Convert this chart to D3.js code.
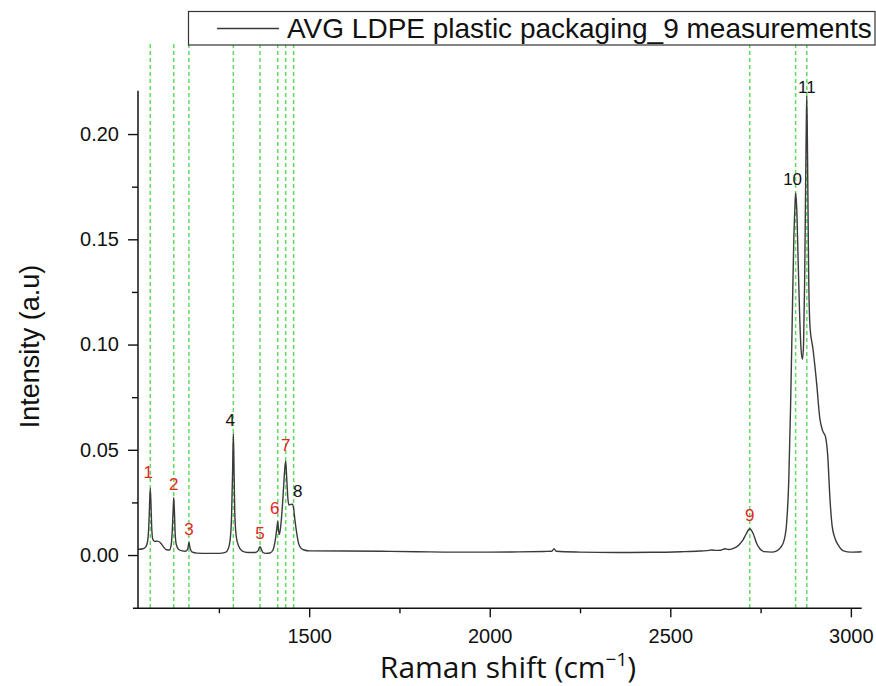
<!DOCTYPE html>
<html>
<head>
<meta charset="utf-8">
<script src="https://d3js.org/d3.v7.min.js"></script>
<style>
    body { margin: 0; background: #fff; }
    svg { display: block; }
</style>
</head>
<body>
<div id="chart"></div>
<script>
// Raman shift (cm-1) sampled along the averaged spectrum
var ramanShift = [
    1026, 1040, 1048, 1053, 1056, 1058, 1060, 1062, 1064, 1067, 1072, 1080, 1088, 1096, 1105,
    1113, 1118, 1121, 1123, 1125, 1127, 1129, 1132, 1138, 1148, 1158, 1164, 1167, 1170, 1175,
    1190, 1220, 1250, 1268, 1276, 1281, 1285, 1288, 1290, 1292, 1294, 1298, 1304, 1314, 1330,
    1350, 1358, 1362, 1364, 1367, 1372, 1380, 1392, 1400, 1406, 1410, 1413, 1415, 1417, 1420,
    1424, 1428, 1432, 1435, 1438, 1441, 1444, 1449, 1454, 1457, 1461, 1465, 1470, 1476, 1486,
    1500, 1600, 1700, 1800, 1900, 2000, 2080, 2150, 2172, 2178, 2184, 2250, 2350, 2450, 2530,
    2580, 2600, 2615, 2625, 2640, 2652, 2660, 2675, 2690, 2700, 2710, 2720, 2730, 2738, 2748,
    2760, 2780, 2795, 2805, 2815, 2822, 2828, 2833, 2838, 2842, 2845, 2847, 2850, 2854, 2858,
    2862, 2866, 2869, 2872, 2875, 2877, 2878, 2880, 2883, 2887, 2895, 2905, 2914, 2922, 2930,
    2936, 2942, 2948, 2956, 2966, 2980, 3000, 3030
];

// Intensity (a.u) at each shift above
var intensity = [
    0.0027, 0.0030, 0.0040, 0.0070, 0.0140, 0.0240, 0.0317, 0.0240, 0.0130, 0.0075, 0.0065, 0.0066, 0.0058, 0.0040, 0.0025,
    0.0024, 0.0050, 0.0120, 0.0200, 0.0274, 0.0200, 0.0100, 0.0050, 0.0028, 0.0020, 0.0018, 0.0030, 0.0060, 0.0035, 0.0015,
    0.0009, 0.0008, 0.0008, 0.0013, 0.0030, 0.0070, 0.0180, 0.0400, 0.0578, 0.0400, 0.0200, 0.0090, 0.0045, 0.0020, 0.0012,
    0.0012, 0.0020, 0.0035, 0.0040, 0.0030, 0.0012, 0.0008, 0.0010, 0.0025, 0.0070, 0.0120, 0.0160, 0.0120, 0.0098, 0.0120,
    0.0190, 0.0290, 0.0400, 0.0447, 0.0360, 0.0270, 0.0238, 0.0240, 0.0242, 0.0220, 0.0160, 0.0110, 0.0060, 0.0035, 0.0024,
    0.0020, 0.0019, 0.0018, 0.0016, 0.0014, 0.0014, 0.0015, 0.0017, 0.0018, 0.0030, 0.0018, 0.0014, 0.0012, 0.0013, 0.0016,
    0.0019, 0.0021, 0.0024, 0.0022, 0.0023, 0.0030, 0.0026, 0.0032, 0.0048, 0.0068, 0.0100, 0.0125, 0.0100, 0.0060, 0.0030,
    0.0016, 0.0014, 0.0020, 0.0035, 0.0070, 0.0150, 0.0350, 0.0700, 0.1150, 0.1500, 0.1650, 0.1720, 0.1650, 0.1400, 0.1150,
    0.0980, 0.0930, 0.1000, 0.1300, 0.1800, 0.2100, 0.2180, 0.1900, 0.1350, 0.1080, 0.0980, 0.0820, 0.0650, 0.0590, 0.0560,
    0.0470, 0.0270, 0.0140, 0.0080, 0.0045, 0.0020, 0.0014, 0.0016
];

// Numbered peaks: position of the marker line and height of the peak
var peakNumber = [1, 2, 3, 4, 5, 6, 7, 8, 9, 10, 11];
var peakShift = [1060, 1125, 1167, 1290, 1364, 1413, 1435, 1457, 2720, 2847, 2878];
var peakIntensity = [0.0317, 0.0274, 0.0060, 0.0578, 0.0040, 0.0160, 0.0447, 0.0242, 0.0125, 0.1720, 0.2180];

// Axis ticks
var xTicks = [1500, 2000, 2500, 3000];
var xMinorTicks = [1250, 1750, 2250, 2750];
var yTicks = [0, 0.05, 0.10, 0.15, 0.20];
var yMinorTicks = [0.025, 0.075, 0.125, 0.175];

var legendLabel = "AVG LDPE plastic packaging_9 measurements";

function init() {
    var w = 876;
    var h = 686;

    // plot area edges, matched to the original figure
    var left = 138, right = 861.7, top = 90.7, bottom = 608.3;

    var xScale = d3.scaleLinear()
        .domain([1026, 3030])
        .range([left, right]);

    var yScale = d3.scaleLinear()
        .domain([-0.0253, 0.2206])
        .range([bottom, top]);

    var svg = d3.select("#chart")
        .append("svg")
        .attr("width", w)
        .attr("height", h);

    var tickFont = "'Liberation Sans', Arial, sans-serif";

    // green dashed marker lines at each numbered peak
    svg.selectAll(".marker")
        .data(peakShift)
        .enter()
        .append("line")
        .attr("class", "marker")
        .attr("x1", function(d) { return xScale(d); })
        .attr("x2", function(d) { return xScale(d); })
        .attr("y1", 44)
        .attr("y2", bottom)
        .attr("stroke", "#5fdc5f")
        .attr("stroke-width", 1.5)
        .attr("stroke-dasharray", "4,3");

    // spectrum line
    var points = ramanShift.map(function(d, i) { return [d, intensity[i]]; });

    var line = d3.line()
        .x(function(d) { return xScale(d[0]); })
        .y(function(d) { return yScale(d[1]); })
        .curve(d3.curveMonotoneX);

    svg.append("path")
        .datum(points)
        .attr("d", line)
        .attr("fill", "none")
        .attr("stroke", "#3a3a3a")
        .attr("stroke-width", 1.4);

    // peak numbers, black for 4, 8, 10, 11 and red for the others
    var blackPeaks = [4, 8, 10, 11];
    var labelDx = { 1: -2, 4: -3, 6: -3, 8: 4, 10: -3 };
    var labelDy = { 1: -10, 7: -10, 11: -3 };

    svg.selectAll(".peak-label")
        .data(peakNumber)
        .enter()
        .append("text")
        .attr("class", "peak-label")
        .attr("x", function(d, i) { return xScale(peakShift[i]) + (labelDx[d] || 0); })
        .attr("y", function(d, i) { return yScale(peakIntensity[i]) + (labelDy[d] || -7.5); })
        .attr("text-anchor", "middle")
        .style("font-family", tickFont)
        .style("font-size", "17px")
        .style("fill", function(d) { return blackPeaks.indexOf(d) >= 0 ? "#111" : "#e3261e"; })
        .text(function(d) { return d; });

    // x axis: major and minor ticks
    svg.append("g")
        .attr("transform", "translate(0," + bottom + ")")
        .call(d3.axisBottom(xScale).tickValues(xTicks).tickSize(9).tickPadding(12)
            .tickFormat(d3.format("d")));

    svg.append("g")
        .attr("transform", "translate(0," + bottom + ")")
        .call(d3.axisBottom(xScale).tickValues(xMinorTicks).tickSize(5).tickFormat(""));

    // y axis: major and minor ticks
    svg.append("g")
        .attr("transform", "translate(" + left + ",0)")
        .call(d3.axisLeft(yScale).tickValues(yTicks).tickSize(10).tickPadding(9)
            .tickFormat(d3.format(".2f")));

    svg.append("g")
        .attr("transform", "translate(" + left + ",0)")
        .call(d3.axisLeft(yScale).tickValues(yMinorTicks).tickSize(6).tickFormat(""));

    svg.selectAll(".domain").remove();
    svg.selectAll(".tick line").attr("stroke", "#111").attr("stroke-width", 1.4);
    svg.selectAll(".tick text")
        .style("font-family", tickFont)
        .style("font-size", "20px")
        .style("fill", "#111");

    // axis lines drawn by hand so the x axis runs a little past the y axis
    svg.append("line")
        .attr("x1", left - 5).attr("x2", right)
        .attr("y1", bottom).attr("y2", bottom)
        .attr("stroke", "#111").attr("stroke-width", 1.5);

    svg.append("line")
        .attr("x1", left).attr("x2", left)
        .attr("y1", top).attr("y2", bottom)
        .attr("stroke", "#111").attr("stroke-width", 1.5);

    // axis titles
    svg.append("text")
        .attr("transform", "translate(39," + ((top + bottom) / 2 - 3) + ") rotate(-90)")
        .attr("text-anchor", "middle")
        .style("font-family", tickFont)
        .style("font-size", "27px")
        .style("fill", "#111")
        .text("Intensity (a.u)");

    var xTitle = svg.append("text")
        .attr("x", 508)
        .attr("y", 678)
        .attr("text-anchor", "middle")
        .style("font-family", "'Open Sans', sans-serif")
        .style("font-size", "30px")
        .style("fill", "#111");
    xTitle.append("tspan").text("Raman shift (cm");
    xTitle.append("tspan").attr("dy", -12).style("font-size", "19px").text("\u22121");
    xTitle.append("tspan").attr("dy", 12).text(")");

    // legend box in the top right
    var legend = svg.append("g");

    legend.append("rect")
        .attr("x", 188.5)
        .attr("y", 11.5)
        .attr("width", 686.5)
        .attr("height", 33.5)
        .attr("fill", "#fff")
        .attr("stroke", "#333")
        .attr("stroke-width", 1.2);

    legend.append("line")
        .attr("x1", 217).attr("x2", 279)
        .attr("y1", 28.5).attr("y2", 28.5)
        .attr("stroke", "#3a3a3a")
        .attr("stroke-width", 1.3);

    legend.append("text")
        .attr("x", 287)
        .attr("y", 38)
        .style("font-family", tickFont)
        .style("font-size", "28px")
        .style("fill", "#111")
        .text(legendLabel);
}

window.onload = init;
</script>
</body>
</html>
